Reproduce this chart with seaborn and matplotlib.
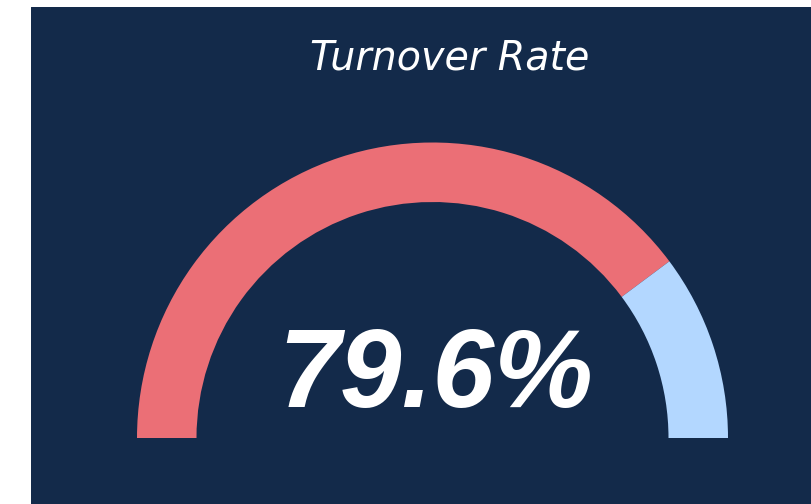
import matplotlib
matplotlib.use('Agg')
import matplotlib.pyplot as plt
from matplotlib.patches import Wedge
import seaborn as sns

# ── Data ─────────────────────────────────────────────────────────────────
TITLE = "Turnover Rate"
RATE = 79.6          # percent shown on the gauge
GAUGE_MAX = 100.0
SEGMENT_COLORS = ['#EB6F76', '#B3D7FF']   # filled, remainder
BG = '#132A4A'

sns.set_theme(style='white')
plt.rcParams['font.family'] = ['Liberation Sans', 'DejaVu Sans']

W, H = 811, 504
fig = plt.figure(figsize=(W / 100, H / 100), dpi=100)
fig.patch.set_facecolor('white')

# panel in pixel units (y up)
px0, py0 = 31, 7
ax = fig.add_axes([px0 / W, 0, (W - px0) / W, (H - py0) / H])
ax.set_facecolor(BG)
ax.set_xlim(px0, W)
ax.set_ylim(0, H - py0)
ax.set_axis_off()
ax.add_patch(plt.Rectangle((px0, 0), W - px0, H - py0, color=BG, zorder=0))

# ── Gauge ────────────────────────────────────────────────────────────────
cx, cy = 432.5, H - 438
r_out, width = 295.5, 59.5
split = 180 - 180 * RATE / GAUGE_MAX
ax.add_patch(Wedge((cx, cy), r_out, split, 180, width=width,
                   facecolor=SEGMENT_COLORS[0], edgecolor='none', zorder=2))
ax.add_patch(Wedge((cx, cy), r_out, 0, split, width=width,
                   facecolor=SEGMENT_COLORS[1], edgecolor='none', zorder=2))

ax.text(450, H - 70, TITLE, color='white', fontsize=28.5, style='italic',
        family=['DejaVu Sans'], ha='center', va='baseline', zorder=3)
ax.text(436, H - 407, f"{RATE:.1f}%", color='white', fontsize=80,
        style='italic', fontweight='bold', ha='center', va='baseline', zorder=3)

fig.savefig('out.png', dpi=100, facecolor='white')
